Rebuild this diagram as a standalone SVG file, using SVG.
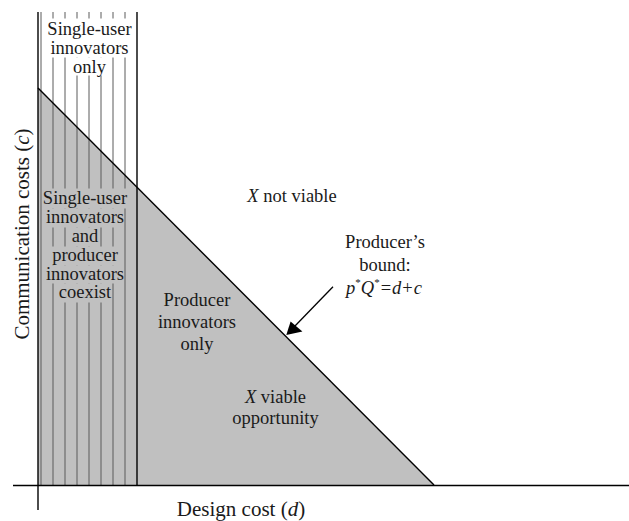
<svg xmlns="http://www.w3.org/2000/svg" width="629" height="521" viewBox="0 0 629 521">
<style>
.t{font-family:"Liberation Serif","Times New Roman",serif;font-size:18.5px;fill:#1a1a1a;text-anchor:middle}
.ax{font-size:21px}
.i{font-style:italic}
.vl{stroke:#5a5a5a;stroke-width:1;fill:none}
.bk{stroke:#000;stroke-width:1.4;fill:none}
.wb{fill:#fff}
.gb{fill:#c0c0c0}
</style>
<rect width="629" height="521" fill="#fff"/>
<g id="viable-region">
<polygon points="38,88 434,485 38,485" fill="#c0c0c0"/>
</g>
<g id="single-user-strip">
<line class="vl" x1="41" y1="12" x2="41" y2="485"/>
<line class="vl" x1="53" y1="12" x2="53" y2="485"/>
<line class="vl" x1="65" y1="12" x2="65" y2="485"/>
<line class="vl" x1="77" y1="12" x2="77" y2="485"/>
<line class="vl" x1="89" y1="12" x2="89" y2="485"/>
<line class="vl" x1="101" y1="12" x2="101" y2="485"/>
<line class="vl" x1="113" y1="12" x2="113" y2="485"/>
<line class="vl" x1="125" y1="12" x2="125" y2="485"/>
<line class="bk" x1="137" y1="12" x2="137" y2="485" stroke-width="1.2"/>
</g>
<g id="label-single-user-only">
<rect class="wb" x="46" y="18.5" width="87" height="21"/>
<rect class="wb" x="48" y="39" width="81" height="18.5"/>
<rect class="wb" x="71" y="57.5" width="37" height="18"/>
<text class="t" x="89.5" y="35">Single-user</text>
<text class="t" x="89.5" y="54">innovators</text>
<text class="t" x="89.5" y="72.5">only</text>
</g>
<g id="label-coexist">
<rect class="gb" x="42" y="188.5" width="87" height="20"/>
<rect class="gb" x="44.5" y="208.5" width="79" height="19"/>
<rect class="gb" x="70" y="227.5" width="29.5" height="19"/>
<rect class="gb" x="51" y="246.5" width="69" height="19"/>
<rect class="gb" x="44.5" y="265.5" width="79" height="18"/>
<rect class="gb" x="57" y="283.5" width="55" height="19"/>
<text class="t" x="85" y="204">Single-user</text>
<text class="t" x="85" y="223">innovators</text>
<text class="t" x="85" y="242">and</text>
<text class="t" x="85" y="261">producer</text>
<text class="t" x="85" y="279.5">innovators</text>
<text class="t" x="85" y="298">coexist</text>
</g>
<g id="producer-bound-line">
<line class="bk" x1="38" y1="88" x2="434" y2="485"/>
</g>
<g id="axes">
<line class="bk" x1="13" y1="485.5" x2="629" y2="485.5"/>
<line class="bk" x1="38" y1="12" x2="38" y2="510"/>
<text class="t ax" transform="translate(29,234) rotate(-90)">Communication costs (<tspan class="i">c</tspan>)</text>
<text class="t ax" x="241" y="516">Design cost (<tspan class="i">d</tspan>)</text>
</g>
<g id="label-not-viable">
<text class="t" x="292" y="201.7"><tspan class="i">X</tspan> not viable</text>
</g>
<g id="label-producer-only">
<text class="t" x="197" y="305.7">Producer</text>
<text class="t" x="197" y="328">innovators</text>
<text class="t" x="197" y="350">only</text>
</g>
<g id="label-viable">
<text class="t" x="275.5" y="402.7"><tspan class="i">X</tspan> viable</text>
<text class="t" x="275.5" y="424.3">opportunity</text>
</g>
<g id="label-producer-bound">
<text class="t" x="385" y="248">Producer’s</text>
<text class="t" x="385" y="271">bound:</text>
<text class="t" x="384" y="294.3"><tspan class="i">p</tspan><tspan font-size="11" dy="-8">*</tspan><tspan class="i" dy="8">Q</tspan><tspan font-size="11" dy="-8">*</tspan><tspan dy="8" dx="1">=</tspan><tspan class="i" dx="1">d</tspan><tspan dx="1">+</tspan><tspan class="i" dx="1">c</tspan></text>
</g>
<g id="connectors">
<line x1="333" y1="286.7" x2="294" y2="327" stroke="#000" stroke-width="1.3"/>
<polygon points="286.3,335 290.6,321.4 296.5,326.4 302.4,331.6" fill="#000"/>
</g>
</svg>
